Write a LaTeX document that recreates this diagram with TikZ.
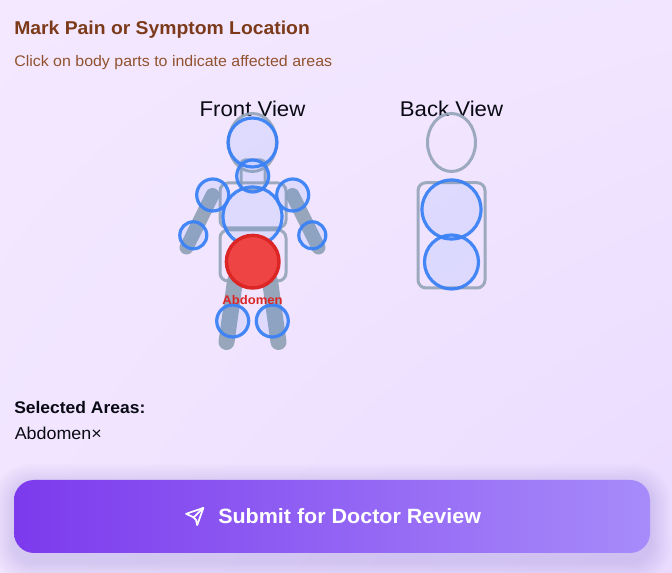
\documentclass[tikz,border=0pt]{standalone}
\usepackage{fontspec}
\usetikzlibrary{shadings}
\setmainfont[FakeStretch=1.04]{Liberation Sans}
\definecolor{bgA}{HTML}{F3E8FF}
\definecolor{bgB}{HTML}{EADBFF}
\definecolor{bodyGray}{HTML}{94A3B8}
\definecolor{hotBlue}{HTML}{3B82F6}
\definecolor{titleBrown}{HTML}{7C3A1A}
\definecolor{subBrown}{HTML}{92522E}
\definecolor{redFill}{HTML}{EF4444}
\definecolor{redLine}{HTML}{DC2626}
\definecolor{btnA}{HTML}{7C3AED}
\definecolor{btnB}{HTML}{A78BFA}
\definecolor{inkBlack}{HTML}{0A0A14}
\tikzset{
  x=0.75pt,y=-0.75pt,
  outline/.style={draw=bodyGray,line width=2.25pt,opacity=.9},
  limb/.style={draw=bodyGray,line cap=round,opacity=.95},
  hot/.style={draw=hotBlue,line width=2.4pt,fill=hotBlue,fill opacity=.1,draw opacity=.95},
  label/.style={inner sep=0pt,anchor=base west},
  caption/.style={inner sep=0pt,anchor=base,text=inkBlack,font=\fontsize{16}{20}\selectfont},
}
\begin{document}
\begin{tikzpicture}
\useasboundingbox (0,0) rectangle (672,573);
\shade[upper left=bgA,upper right=bgA!80!bgB,lower left=bgA!75!bgB,lower right=bgB] (0,0) rectangle (672,573);
% titles
\node[label,text=titleBrown,font=\fontsize{13.95}{16}\selectfont\bfseries] (title) at (14,35) {Mark Pain or Symptom Location};
\node[label,text=subBrown,font=\fontsize{11.5}{13}\selectfont] (sub) at (14,67) {Click on body parts to indicate affected areas};
\node[caption] (front) at (252.5,117) {Front View};
\node[caption] (back) at (451.5,117) {Back View};
% front body
\draw[outline] (252.5,142.5) ellipse [x radius=24,y radius=29];
\draw[outline,rounded corners=3pt] (241,160) rectangle (265,190);
\draw[outline,rounded corners=6pt] (220,183) rectangle (286,228);
\draw[outline,rounded corners=6pt] (220,230) rectangle (286,281);
\draw[limb,line width=10.5pt] (212.5,195) -- (186.5,247.5);
\draw[limb,line width=10.5pt] (292.5,195) -- (318.5,247.5);
\draw[limb,line width=12pt] (235,281) -- (226.5,342);
\draw[limb,line width=12pt] (270,281) -- (278.5,342);
% front hot spots
\draw[hot] (252.5,142.5) circle [radius=24.5];
\draw[hot] (252.7,176) circle [radius=16];
\draw[hot] (212.7,195) circle [radius=16];
\draw[hot] (292.7,195) circle [radius=16];
\draw[hot] (252.5,216.5) circle [radius=29.5];
\draw[hot] (193.3,235.3) circle [radius=13.5];
\draw[hot] (312.3,235.3) circle [radius=13.5];
\draw[hot] (232.7,321) circle [radius=16];
\draw[hot] (272.3,321) circle [radius=16];
\draw[draw=redLine,line width=2.6pt,fill=redFill] (252.7,261.7) circle [radius=26.3];
\node[inner sep=0pt,anchor=base,text=redLine,font=\fontsize{9.4}{11}\selectfont\bfseries] (abd) at (252.5,305) {Abdomen};
% back body
\draw[outline] (451.5,142.5) ellipse [x radius=24,y radius=29];
\draw[outline,rounded corners=6pt] (418,182.7) rectangle (485,288);
\draw[hot] (451.5,209.5) circle [radius=29.5];
\draw[hot] (451.5,262) circle [radius=27];
% selection
\node[label,text=inkBlack,font=\fontsize{12.6}{14}\selectfont\bfseries] (sel) at (14,414) {Selected Areas:};
\node[label,text=inkBlack,font=\fontsize{12.9}{14}\selectfont] (item) at (14.5,440) {Abdomen×};
% button shadow
\foreach \g in {1,...,14}{
  \fill[btnA,opacity=.011,rounded corners=15pt+\g*0.9pt] (14-\g*1.5,480+5-\g*1.5) rectangle (650+\g*1.5,553+9+\g*1.5);
}
\shade[left color=btnA,right color=btnB,rounded corners=15pt] (14,480) rectangle (650,553);
% send icon
\begin{scope}[shift={(184,506)},x=0.66pt,y=-0.66pt]
\draw[white,line width=1.3pt,line join=round,line cap=round] (15,21.7) -- (22,2.2) -- (2.4,8.9) -- (10.4,12.6) -- (13.6,15.6) -- cycle;
\draw[white,line width=1.3pt,line cap=round] (21.8,2.2) -- (10.9,13.1);
\end{scope}
\node[label,text=white,font=\fontsize{15.5}{20}\selectfont\bfseries] (btn) at (218,524) {Submit for Doctor Review};
\end{tikzpicture}
\end{document}
